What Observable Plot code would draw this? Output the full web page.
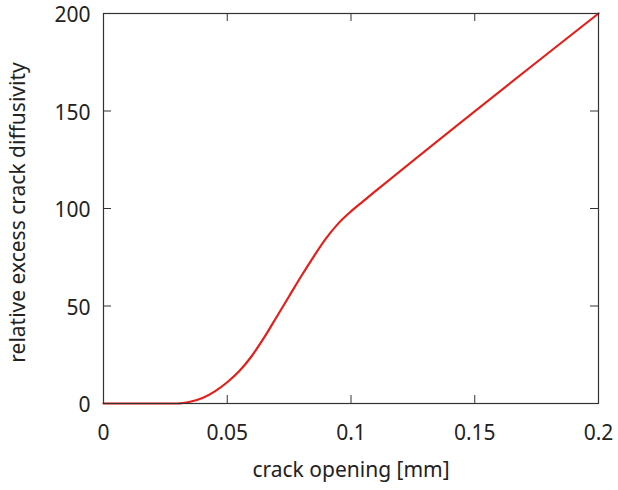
<!DOCTYPE html>
<html>
<head>
<meta charset="utf-8">
<script src="https://cdn.jsdelivr.net/npm/d3@7"></script>
<script src="https://cdn.jsdelivr.net/npm/@observablehq/plot@0.6"></script>
<style>
  html, body { margin: 0; padding: 0; background: #fff; }
</style>
</head>
<body>
<div id="chart"></div>
<script>
// crack opening [mm]
const crackOpening = [0, 0.03, 0.035, 0.04, 0.045, 0.05, 0.055, 0.06, 0.065, 0.07, 0.075, 0.08, 0.085, 0.09, 0.095, 0.1, 0.105, 0.11, 0.2];
// relative excess crack diffusivity
const diffusivity = [0, 0, 0.9, 2.8, 6.2, 10.9, 16.8, 24.5, 34, 44.5, 55, 65.5, 75.5, 84.8, 92.5, 98.5, 103.8, 109, 200];

const xTicks = [0, 0.05, 0.1, 0.15, 0.2];
const xTickLabels = ["0", "0.05", "0.1", "0.15", "0.2"];
const yTicks = [0, 50, 100, 150, 200];
const yTickLabels = ["0", "50", "100", "150", "200"];
const xLabel = "crack opening [mm]";
const yLabel = "relative excess crack diffusivity";

const data = crackOpening.map((x, i) => ({x, y: diffusivity[i]}));

const W = 618, H = 490;
const mL = 103, mR = 20, mT = 13, mB = 87;
const innerW = W - mL - mR, innerH = H - mT - mB;
const tickLen = 8;
const axisColor = "#333";
const FS = 21;

const chart = Plot.plot({
  width: W,
  height: H,
  marginLeft: mL,
  marginRight: mR,
  marginTop: mT,
  marginBottom: mB,
  style: {fontFamily: "'Noto Sans', sans-serif", fontSize: FS + "px", color: "#222", background: "#fff"},
  x: {domain: [0, 0.2]},
  y: {domain: [0, 200]},
  marks: [
    // inward ticks, bottom and top
    Plot.ruleX(xTicks, {stroke: axisColor, insetTop: innerH - tickLen}),
    Plot.ruleX(xTicks, {stroke: axisColor, insetBottom: innerH - tickLen}),
    // inward ticks, left and right
    Plot.ruleY(yTicks, {stroke: axisColor, insetRight: innerW - tickLen}),
    Plot.ruleY(yTicks, {stroke: axisColor, insetLeft: innerW - tickLen}),
    Plot.axisX({ticks: xTicks, tickSize: 0, tickPadding: 22, tickFormat: (d, i) => xTickLabels[i], label: null, fontSize: FS}),
    Plot.axisY({ticks: yTicks, tickSize: 0, tickPadding: 13, dy: 2, tickFormat: (d, i) => yTickLabels[i], label: null, fontSize: FS}),
    Plot.line(data, {x: "x", y: "y", stroke: "#e41f1a", strokeWidth: 2.2, curve: "monotone-x"}),
    Plot.frame({stroke: axisColor, strokeWidth: 1.2}),
    Plot.text([xLabel], {frameAnchor: "bottom", dy: 73, fill: "#222", fontSize: FS}),
    Plot.text([yLabel], {frameAnchor: "left", textAnchor: "middle", dx: -85, dy: 4, rotate: -90, fill: "#222", fontSize: FS})
  ]
});
document.getElementById("chart").appendChild(chart);
</script>
</body>
</html>
